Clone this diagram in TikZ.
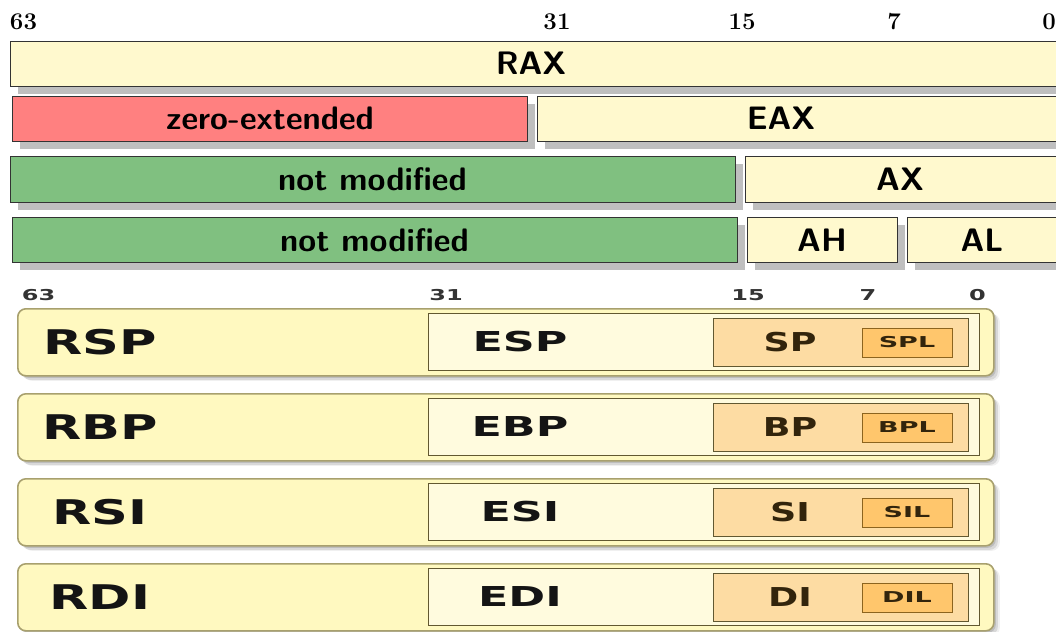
\documentclass[tikz,border=0pt]{standalone}
\usepackage{fontspec}
\usetikzlibrary{shadows}
\newfontfamily\wideboldfont{DejaVu Sans Bold}

% colours of the flat (upper) chart
\definecolor{cream}{RGB}{255,249,206}
\definecolor{zeroext}{RGB}{255,128,128}
\definecolor{keepgreen}{RGB}{128,192,128}
% colours of the rounded (lower) chart
\definecolor{outerfill}{RGB}{255,249,192}
\definecolor{outerline}{RGB}{168,160,110}
\definecolor{midfill}{RGB}{255,251,222}
\definecolor{wordfill}{RGB}{253,220,163}
\definecolor{bytefill}{RGB}{255,198,108}
\definecolor{innerline}{RGB}{98,88,48}
\definecolor{byteline}{RGB}{140,100,30}
\definecolor{browntext}{RGB}{50,36,12}

\tikzset{
  bitnum/.style={font=\fontsize{24}{24}\selectfont\bfseries, inner sep=0pt, anchor=base},
  flatbox/.style={draw=black!80, line width=1.3pt, anchor=north west, inner sep=0pt,
    drop shadow={shadow xshift=7pt, shadow yshift=-7pt, fill=black!25, opacity=1}},
  flattext/.style={font=\fontsize{32.5}{32.5}\selectfont\sffamily\bfseries, inner sep=0pt, anchor=base},
  smallbit/.style={font=\wideboldfont\fontsize{15}{15}\selectfont, text=black!80, inner sep=0pt},
  outerbox/.style={draw=outerline, line width=1.6pt, fill=outerfill, rounded corners=8pt,
    anchor=north west, inner sep=0pt, minimum width=976pt, minimum height=67pt,
    drop shadow={shadow xshift=2pt, shadow yshift=-2pt, fill=black, opacity=.12},
    drop shadow={shadow xshift=4pt, shadow yshift=-4pt, fill=black, opacity=.10},
    drop shadow={shadow xshift=6pt, shadow yshift=-5pt, fill=black, opacity=.06}},
  midbox/.style={draw=innerline, line width=1.3pt, fill=midfill, anchor=north west,
    inner sep=0pt, minimum width=551pt, minimum height=57pt},
  wordbox/.style={draw=innerline, line width=1.3pt, fill=wordfill, anchor=north west,
    inner sep=0pt, minimum width=255pt, minimum height=48pt},
  bytebox/.style={draw=byteline, line width=1.3pt, fill=bytefill, anchor=north west,
    inner sep=0pt, minimum width=90pt, minimum height=29pt},
  qtext/.style={font=\wideboldfont\fontsize{34}{34}\selectfont, text=black!92, inner sep=0pt},
  dtext/.style={font=\wideboldfont\fontsize{27.4}{27.4}\selectfont, text=black!92, inner sep=0pt},
  wtext/.style={font=\wideboldfont\fontsize{26}{26}\selectfont, text=browntext, inner sep=0pt},
  btext/.style={font=\wideboldfont\fontsize{15}{15}\selectfont, text=browntext, inner sep=0pt}
}

\begin{document}
\begin{tikzpicture}[x=1pt, y=-1pt]
\useasboundingbox (0,0) rectangle (1056,631);
\clip (0,0) rectangle (1056,631);

% ---------- upper chart: writes to RAX and its parts ----------
\node[bitnum] (b63) at (23.5,29.5) {63};
\node[bitnum] (b31) at (557,29.5) {31};
\node[bitnum] (b15) at (742,29.5) {15};
\node[bitnum] (b7)  at (894,29.5) {7};
\node[bitnum] (b0)  at (1049,29.5) {0};

\node[flatbox, fill=cream, minimum width=1060pt, minimum height=45pt] (rax) at (10,41) {};
\node[flattext] (raxt) at (531,75) {RAX};

\node[flatbox, fill=zeroext, minimum width=515pt, minimum height=45pt] (zx) at (12,96) {};
\node[flattext] (zxt) at (270,130) {zero-extended};
\node[flatbox, fill=cream, minimum width=533pt, minimum height=45pt] (eax) at (537,96) {};
\node[flattext] (eaxt) at (781,130) {EAX};

\node[flatbox, fill=keepgreen, minimum width=725pt, minimum height=46pt] (nm1) at (10,156) {};
\node[flattext] (nm1t) at (372.5,190) {not modified};
\node[flatbox, fill=cream, minimum width=325pt, minimum height=46pt] (ax) at (745,156) {};
\node[flattext] (axt) at (900,190) {AX};

\node[flatbox, fill=keepgreen, minimum width=725pt, minimum height=45pt] (nm2) at (12,217) {};
\node[flattext] (nm2t) at (374.5,251) {not modified};
\node[flatbox, fill=cream, minimum width=150pt, minimum height=45pt] (ah) at (747,217) {};
\node[flattext] (aht) at (822,251) {AH};
\node[flatbox, fill=cream, minimum width=163pt, minimum height=45pt] (al) at (907,217) {};
\node[flattext] (alt) at (982,251) {AL};

% ---------- lower chart: stack and index registers ----------
\node[smallbit] (s63) at (38.5,295.5) {\scalebox{1.6}[1]{63}};
\node[smallbit] (s31) at (446,295.5) {\scalebox{1.6}[1]{31}};
\node[smallbit] (s15) at (748,295.5) {\scalebox{1.6}[1]{15}};
\node[smallbit] (s7)  at (868,295.5) {\scalebox{1.6}[1]{7}};
\node[smallbit] (s0)  at (977.5,295.5) {\scalebox{1.6}[1]{0}};

\foreach \i/\qn/\dn/\wn/\bn in {0/RSP/ESP/SP/SPL, 1/RBP/EBP/BP/BPL,
                                 2/RSI/ESI/SI/SIL, 3/RDI/EDI/DI/DIL}{
  \pgfmathsetmacro\t{308+85*\i}
  \node[outerbox] (q\i) at (17,\t) {};
  \node[midbox]   (d\i) at (428,\t+5) {};
  \node[wordbox]  (w\i) at (713,\t+10) {};
  \node[bytebox]  (b\i) at (862,\t+20) {};
  \node[qtext] (qt\i) at (100,\t+34.5) {\scalebox{1.5}[1]{\qn}};
  \node[dtext] (dt\i) at (520,\t+34) {\scalebox{1.62}[1]{\dn}};
  \node[wtext] (wt\i) at (790,\t+34.5) {\scalebox{1.4}[1]{\wn}};
  \node[btext] (bt\i) at (907,\t+34.5) {\scalebox{1.8}[1]{\bn}};
}
\end{tikzpicture}
\end{document}
